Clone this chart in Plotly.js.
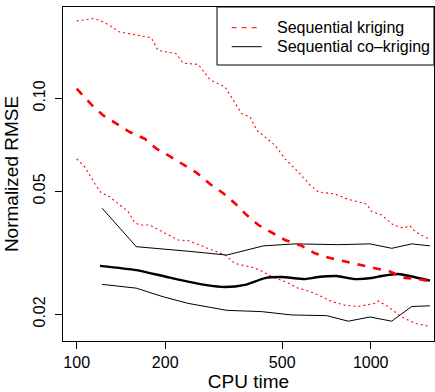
<!DOCTYPE html>
<html>
<head>
<meta charset="utf-8">
<script src="https://cdn.plot.ly/plotly-3.0.1.min.js"></script>
<style>
html,body{margin:0;padding:0;background:#fff;}
#chart{width:435px;height:392px;}
</style>
</head>
<body>
<div id="chart"></div>
<script>
// Sequential kriging: upper band, mean, lower band
var krigUpperX = [100, 113.6, 119.8, 129.5, 140, 179.4, 189, 218, 230, 259, 284, 319.5, 364, 389, 409.6, 472.6, 511, 575, 622, 663, 756, 797, 839, 969, 1008, 1090, 1194, 1291, 1360, 1415, 1579];
var krigUpperY = [0.178, 0.181, 0.1788, 0.1722, 0.164, 0.157, 0.143, 0.1394, 0.130, 0.1288, 0.1149, 0.1088, 0.0892, 0.0870, 0.0788, 0.0705, 0.0637, 0.057, 0.0524, 0.0498, 0.049, 0.048, 0.0471, 0.0455, 0.043, 0.0419, 0.0389, 0.038, 0.0387, 0.037, 0.035];

var krigMeanX = [100, 112, 122.9, 136.4, 151.5, 170.3, 186.6, 207, 233, 256, 284, 315, 345.5, 378.6, 415, 460, 511, 582.5, 646, 727, 818, 919, 1034, 1163, 1308, 1452, 1591];
var krigMeanY = [0.1074, 0.0956, 0.0881, 0.0828, 0.0778, 0.074, 0.0687, 0.065, 0.0607, 0.0574, 0.0528, 0.0493, 0.0457, 0.0419, 0.0389, 0.0367, 0.0348, 0.0333, 0.0315, 0.0304, 0.0296, 0.0289, 0.0282, 0.0275, 0.0262, 0.026, 0.0256];

var krigLowerX = [100, 106.5, 115, 121, 129.5, 138, 149.5, 157.5, 163.8, 177, 196.6, 221, 240, 266, 295, 319.5, 345.5, 394, 420, 460, 511, 567, 622, 663, 737, 818, 907.5, 1034, 1061.5, 1134, 1275, 1415, 1570];
var krigLowerY = [0.0637, 0.060, 0.0531, 0.0495, 0.048, 0.0457, 0.043, 0.0396, 0.0389, 0.0389, 0.037, 0.0348, 0.0346, 0.0333, 0.0319, 0.0311, 0.0292, 0.0284, 0.0278, 0.0265, 0.0255, 0.0243, 0.0237, 0.0231, 0.022, 0.0214, 0.0212, 0.0217, 0.0221, 0.0213, 0.0196, 0.0187, 0.0183];

// Sequential co-kriging: upper band, mean, lower band
var cokrigUpperX = [122, 159.5, 239, 324, 431, 553, 776, 994.5, 1179, 1379, 1591];
var cokrigUpperY = [0.0441, 0.0331, 0.032, 0.0311, 0.0333, 0.0338, 0.0336, 0.0338, 0.0327, 0.0338, 0.0333];

var cokrigMeanX = [120, 159.5, 196.6, 239, 273, 319.5, 373.6, 437, 498, 598, 663, 766, 884, 1008, 1090, 1241, 1379, 1591];
var cokrigMeanY = [0.0287, 0.0278, 0.0266, 0.0255, 0.0249, 0.0245, 0.0249, 0.0262, 0.0264, 0.026, 0.0264, 0.0266, 0.026, 0.0262, 0.0266, 0.027, 0.0265, 0.0257];

var cokrigLowerX = [122, 159.5, 196.6, 239, 324, 426, 539, 708, 839, 994.5, 1179, 1379, 1591];
var cokrigLowerY = [0.025, 0.0243, 0.0228, 0.0217, 0.0206, 0.0204, 0.0199, 0.0198, 0.019, 0.0196, 0.019, 0.0212, 0.0213];

var seriesNames = ["Sequential kriging", "Sequential co\u2013kriging"];
var xTicks = [100, 200, 500, 1000];
var yTicks = [0.02, 0.05, 0.10];
var yTickText = ["0.02", "0.05", "0.10"];

var RED = "#ff0000";
var dotted = "2px,3px";

var traces = [
  {x: krigUpperX, y: krigUpperY, mode: "lines", line: {color: RED, width: 1.1, dash: dotted}, showlegend: false, hoverinfo: "skip"},
  {x: krigLowerX, y: krigLowerY, mode: "lines", line: {color: RED, width: 1.1, dash: dotted}, showlegend: false, hoverinfo: "skip"},
  {x: cokrigUpperX, y: cokrigUpperY, mode: "lines", line: {color: "#000", width: 1}, showlegend: false, hoverinfo: "skip"},
  {x: cokrigLowerX, y: cokrigLowerY, mode: "lines", line: {color: "#000", width: 1}, showlegend: false, hoverinfo: "skip"},
  {x: cokrigMeanX, y: cokrigMeanY, mode: "lines", line: {color: "#000", width: 2.4, shape: "spline", smoothing: 0.6}, showlegend: false, hoverinfo: "skip"},
  {x: krigMeanX, y: krigMeanY, mode: "lines", line: {color: RED, width: 2.6, dash: "8px,8px"}, showlegend: false, hoverinfo: "skip"}
];

// key (drawn in paper coordinates, plot area spans x 63..434, y 7..341 px)
function px2x(p) { return (p - 63) / 371; }
function py2y(p) { return (341 - p) / 334; }
var keyRows = [27.7, 46.7];
var keyStyles = [{color: RED, width: 1, dash: "5px,5px"}, {color: "#000", width: 1, dash: "solid"}];

var shapes = [
  {type: "rect", xref: "paper", yref: "paper", x0: px2x(217), x1: 1, y0: py2y(65), y1: 1,
   line: {color: "#000", width: 1}, fillcolor: "#fff", layer: "above"}
];
var annotations = [];
for (var i = 0; i < seriesNames.length; i++) {
  shapes.push({type: "line", xref: "paper", yref: "paper",
    x0: px2x(231.7), x1: px2x(261.7), y0: py2y(keyRows[i]), y1: py2y(keyRows[i]),
    line: keyStyles[i], layer: "above"});
  annotations.push({xref: "paper", yref: "paper", x: px2x(275), y: py2y(keyRows[i]),
    xanchor: "left", yanchor: "middle", showarrow: false, text: seriesNames[i],
    font: {size: 16, color: "#000"}});
}

var layout = {
  width: 435, height: 392,
  margin: {l: 63, r: 1, t: 7, b: 51},
  paper_bgcolor: "#fff", plot_bgcolor: "#fff",
  font: {family: "Liberation Sans, Arial, sans-serif", size: 16, color: "#000"},
  showlegend: false,
  shapes: shapes,
  annotations: annotations,
  xaxis: {
    type: "log", range: [1.9534, 3.2153],
    tickvals: xTicks, ticktext: xTicks.map(String),
    ticks: "outside", ticklen: 7, tickwidth: 1, tickcolor: "#000",
    showline: true, linecolor: "#000", linewidth: 1, mirror: true,
    showgrid: false, zeroline: false,
    title: {text: "CPU time", standoff: 8}
  },
  yaxis: {
    type: "log", range: [-1.7854, -0.7045],
    tickvals: yTicks, ticktext: yTickText, tickangle: -90,
    ticks: "outside", ticklen: 7, tickwidth: 1, tickcolor: "#000",
    ticklabelstandoff: 4,
    showline: true, linecolor: "#000", linewidth: 1, mirror: true,
    showgrid: false, zeroline: false,
    title: {text: "Normalized RMSE", standoff: 6}
  }
};

Plotly.newPlot("chart", traces, layout, {displayModeBar: false, staticPlot: true});
</script>
</body>
</html>
